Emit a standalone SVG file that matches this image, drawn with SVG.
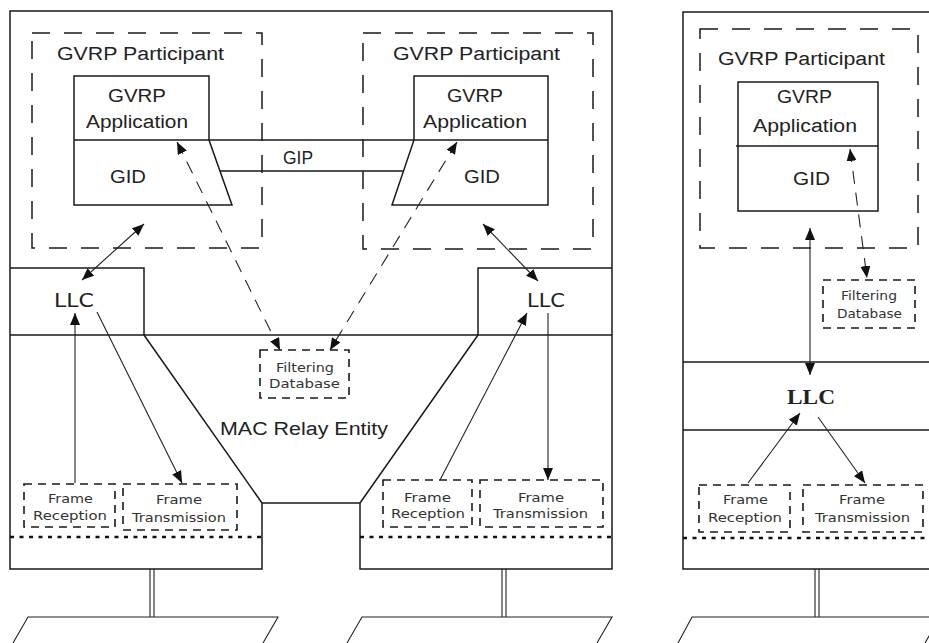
<svg xmlns="http://www.w3.org/2000/svg" width="929" height="643" viewBox="0 0 929 643">
<style>
.ln{fill:none;stroke:#1a1a1a;stroke-width:1.5}
.thin{fill:none;stroke:#222;stroke-width:1.1}
.part{fill:none;stroke:#1a1a1a;stroke-width:1.5;stroke-dasharray:18 14}
.sbox{fill:none;stroke:#1a1a1a;stroke-width:1.6;stroke-dasharray:8 6}
.dot{fill:none;stroke:#111;stroke-width:2.6;stroke-dasharray:4 5.5}
.arr{fill:none;stroke:#222;stroke-width:1.1;marker-end:url(#ah)}
.arr2{fill:none;stroke:#222;stroke-width:1.1;marker-end:url(#ah);marker-start:url(#ah)}
.darr2{fill:none;stroke:#222;stroke-width:1.1;stroke-dasharray:13 9;marker-end:url(#ah);marker-start:url(#ah)}
.t{font-family:"Liberation Sans",Arial,sans-serif;font-size:18px;fill:#222}
.s{font-family:"DejaVu Sans",Verdana,sans-serif;font-size:12.5px;fill:#333}
.llc{font-family:"DejaVu Sans",Verdana,sans-serif;font-size:19px;fill:#222}
.llcb{font-family:"Liberation Serif","Times New Roman",serif;font-size:20px;font-weight:bold;fill:#222}
</style>
<defs>
<marker id="ah" markerUnits="userSpaceOnUse" markerWidth="12" markerHeight="10" viewBox="0 0 12 10" refX="12" refY="5" orient="auto-start-reverse">
<path d="M0,0 L12,5 L0,10 z" fill="#111"/>
</marker>
</defs>

<g id="bridge1">
<path class="ln" d="M10,11 H612 V569 H360 V503 H262 V569 H10 Z"/>
<path class="ln" d="M144,335 L262,503 M478,335 L360,503"/>
<path class="ln" d="M10,268 H144 V335 M612,268 H478 V335 M10,335 H612"/>
<path class="dot" d="M10,537 H262 M360,537 H612"/>
</g>

<g id="station">
<path class="ln" d="M929,12 H683 V569 H929"/>
<path class="ln" d="M683,362 H929 M683,430 H929"/>
<path class="dot" d="M683,538 H929"/>
</g>

<g id="participant-left">
<rect class="part" x="32" y="33" width="230" height="215"/>
<text class="t" x="57" y="60" textLength="167" lengthAdjust="spacingAndGlyphs">GVRP Participant</text>
</g>
<g id="app-left">
<path class="ln" d="M74,76 H209 V140 L232,205 H74 Z M74,140 H209"/>
<text class="t" x="108" y="102" textLength="58" lengthAdjust="spacingAndGlyphs">GVRP</text>
<text class="t" x="86" y="128" textLength="102" lengthAdjust="spacingAndGlyphs">Application</text>
<text class="t" x="110" y="183" textLength="36" lengthAdjust="spacingAndGlyphs">GID</text>
</g>

<g id="participant-right">
<rect class="part" x="363" y="33" width="230" height="216"/>
<text class="t" x="393" y="60" textLength="167" lengthAdjust="spacingAndGlyphs">GVRP Participant</text>
</g>
<g id="app-right">
<path class="ln" d="M548,76 H414 V140 L392,205 H548 Z M414,140 H548"/>
<text class="t" x="447" y="102" textLength="56" lengthAdjust="spacingAndGlyphs">GVRP</text>
<text class="t" x="423" y="128" textLength="104" lengthAdjust="spacingAndGlyphs">Application</text>
<text class="t" x="464" y="183" textLength="36" lengthAdjust="spacingAndGlyphs">GID</text>
</g>

<g id="participant-station">
<rect class="part" x="700" y="29" width="218" height="219"/>
<text class="t" x="718" y="65" textLength="167" lengthAdjust="spacingAndGlyphs">GVRP Participant</text>
</g>
<g id="app-station">
<rect class="ln" x="738" y="82" width="140" height="129"/>
<path class="ln" d="M736,146 H878"/>
<text class="t" x="777" y="103" textLength="55" lengthAdjust="spacingAndGlyphs">GVRP</text>
<text class="t" x="753" y="132" textLength="104" lengthAdjust="spacingAndGlyphs">Application</text>
<text class="t" x="793" y="185" textLength="37" lengthAdjust="spacingAndGlyphs">GID</text>
</g>

<g id="llc-left"><text class="llc" x="54" y="307" textLength="40" lengthAdjust="spacingAndGlyphs">LLC</text></g>
<g id="llc-right"><text class="llc" x="527" y="307" textLength="38" lengthAdjust="spacingAndGlyphs">LLC</text></g>
<g id="llc-station"><text class="llcb" x="787" y="404" textLength="48" lengthAdjust="spacingAndGlyphs">LLC</text></g>

<g id="mac-relay"><text class="t" x="220" y="435" textLength="168" lengthAdjust="spacingAndGlyphs">MAC Relay Entity</text></g>

<g id="fdb-bridge">
<rect class="sbox" x="260" y="350" width="89" height="48"/>
<text class="s" x="276" y="372" textLength="58" lengthAdjust="spacingAndGlyphs">Filtering</text>
<text class="s" x="269" y="388" textLength="71" lengthAdjust="spacingAndGlyphs">Database</text>
</g>
<g id="fdb-station">
<rect class="sbox" x="823" y="280" width="92" height="48"/>
<text class="s" x="841" y="300" textLength="56" lengthAdjust="spacingAndGlyphs">Filtering</text>
<text class="s" x="837" y="318" textLength="65" lengthAdjust="spacingAndGlyphs">Database</text>
</g>

<g id="rx-left">
<rect class="sbox" x="24" y="484" width="91" height="43"/>
<text class="s" x="48" y="503" textLength="45" lengthAdjust="spacingAndGlyphs">Frame</text>
<text class="s" x="33" y="520" textLength="74" lengthAdjust="spacingAndGlyphs">Reception</text>
</g>
<g id="tx-left">
<rect class="sbox" x="123" y="484" width="114" height="46"/>
<text class="s" x="156" y="504" textLength="46" lengthAdjust="spacingAndGlyphs">Frame</text>
<text class="s" x="132" y="522" textLength="94" lengthAdjust="spacingAndGlyphs">Transmission</text>
</g>
<g id="rx-right">
<rect class="sbox" x="383" y="480" width="89" height="47"/>
<text class="s" x="404" y="502" textLength="47" lengthAdjust="spacingAndGlyphs">Frame</text>
<text class="s" x="391" y="518" textLength="74" lengthAdjust="spacingAndGlyphs">Reception</text>
</g>
<g id="tx-right">
<rect class="sbox" x="480" y="480" width="123" height="47"/>
<text class="s" x="518" y="502" textLength="46" lengthAdjust="spacingAndGlyphs">Frame</text>
<text class="s" x="493" y="518" textLength="95" lengthAdjust="spacingAndGlyphs">Transmission</text>
</g>
<g id="rx-station">
<rect class="sbox" x="699" y="485" width="91" height="47"/>
<text class="s" x="723" y="504" textLength="45" lengthAdjust="spacingAndGlyphs">Frame</text>
<text class="s" x="708" y="522" textLength="74" lengthAdjust="spacingAndGlyphs">Reception</text>
</g>
<g id="tx-station">
<rect class="sbox" x="803" y="485" width="120" height="47"/>
<text class="s" x="839" y="504" textLength="46" lengthAdjust="spacingAndGlyphs">Frame</text>
<text class="s" x="815" y="522" textLength="95" lengthAdjust="spacingAndGlyphs">Transmission</text>
</g>

<g id="lan-left">
<path class="thin" d="M150,569 V617 M154,569 V617"/>
<path class="thin" d="M13,643 L28,617 H278 L263,643"/>
</g>
<g id="lan-right">
<path class="thin" d="M502,569 V617 M506,569 V617"/>
<path class="thin" d="M347,643 L362,617 H612 L597,643"/>
</g>
<g id="lan-station">
<path class="thin" d="M815,569 V617 M819,569 V617"/>
<path class="thin" d="M678,643 L692,617 H940 L925,643"/>
</g>

<g id="connectors">
<path class="ln" d="M209,140 H414 M220,171 H403"/>
<text class="t" x="283" y="164" textLength="30" lengthAdjust="spacingAndGlyphs">GIP</text>
<path class="arr2" d="M82,280 L144,224"/>
<path class="arr2" d="M538,281 L483,224"/>
<path class="darr2" d="M177,142 L280,350"/>
<path class="darr2" d="M457,142 L330,350"/>
<path class="arr" d="M75,483 V313"/>
<path class="arr" d="M97,312 L182,483"/>
<path class="arr" d="M440,480 L527,313"/>
<path class="arr" d="M548,313 V480"/>
<path class="darr2" d="M850,149 L867,278"/>
<path class="arr2" d="M810,228 V375"/>
<path class="arr" d="M748,483 L800,413"/>
<path class="arr" d="M818,417 L865,483"/>
</g>
</svg>
